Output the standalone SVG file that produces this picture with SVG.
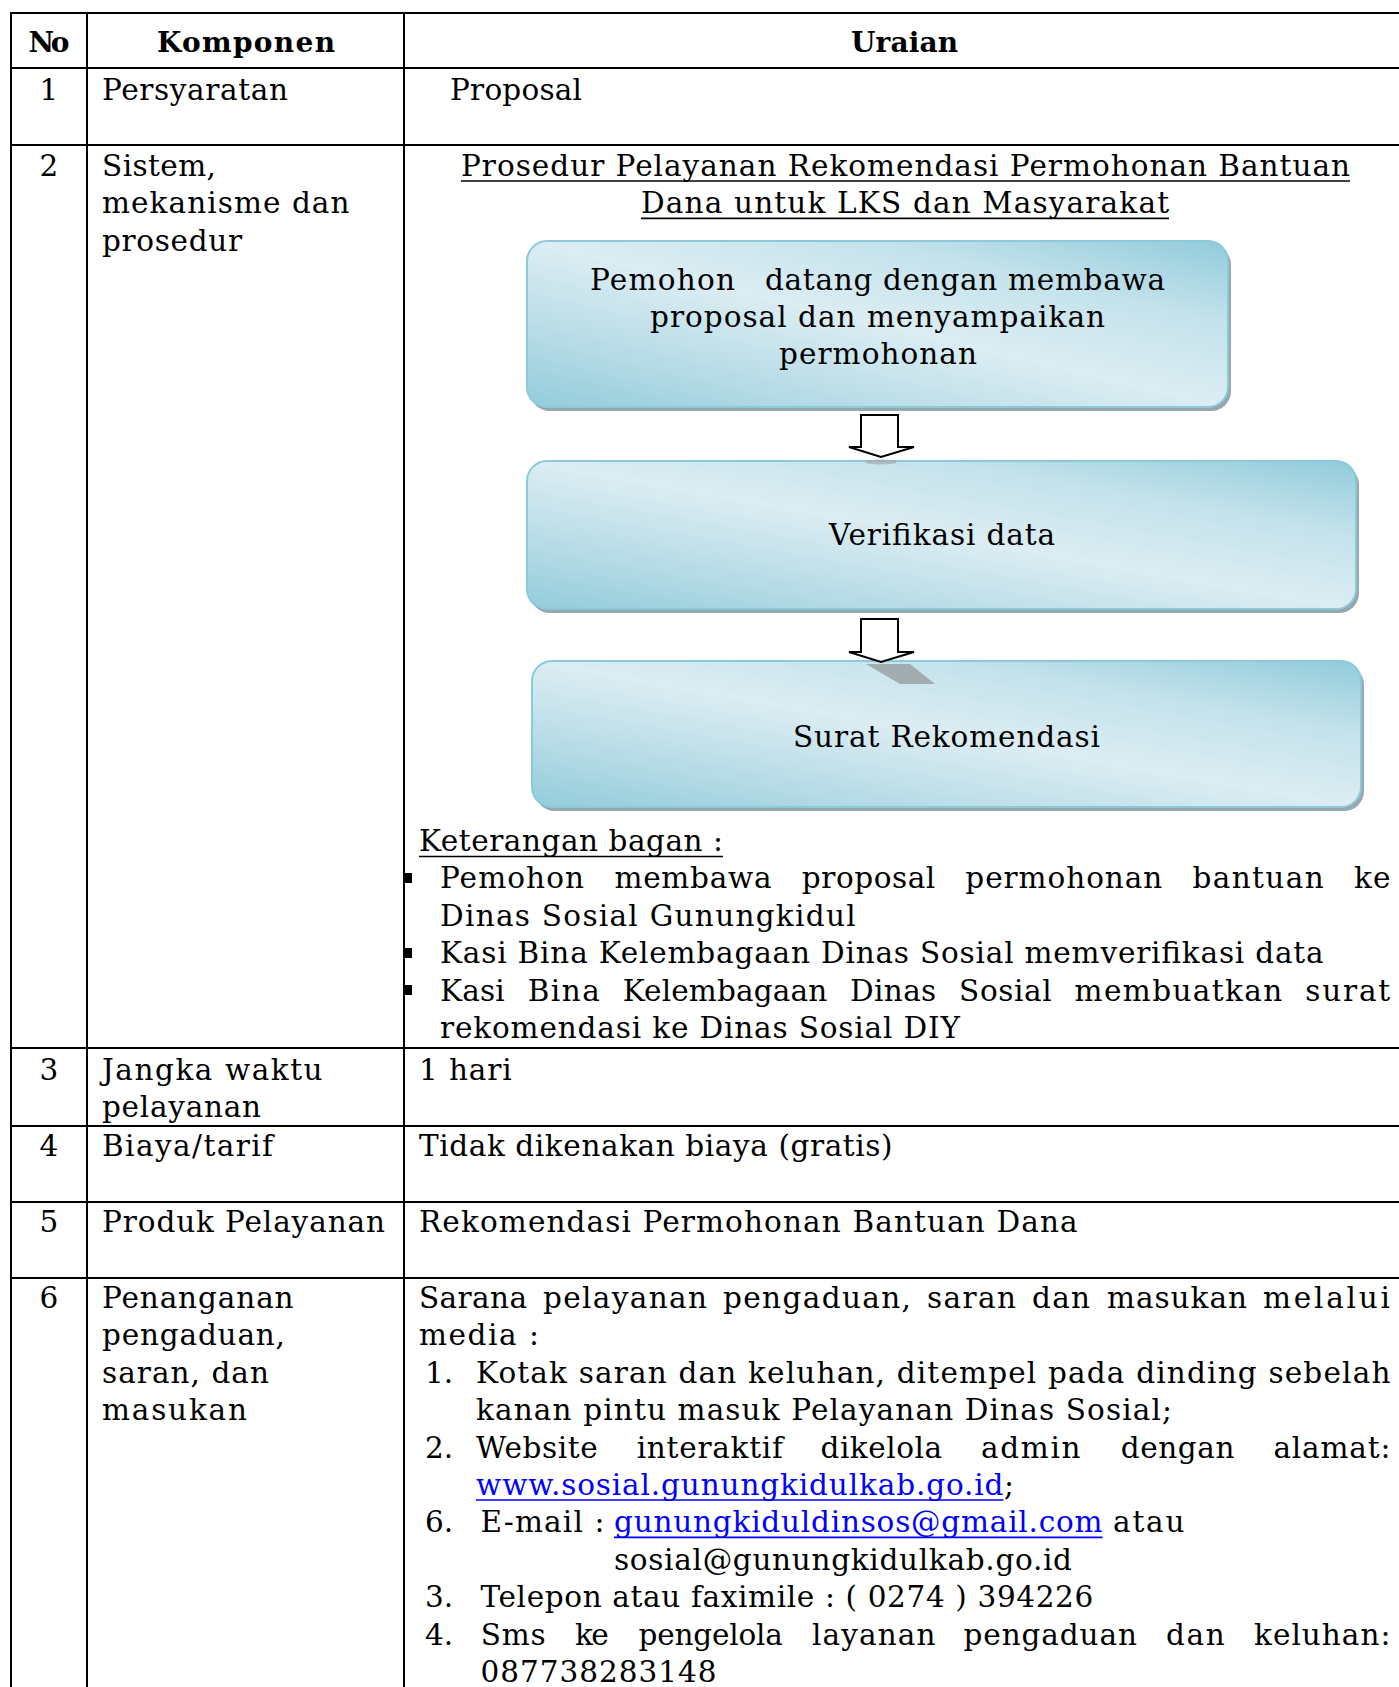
<svg xmlns="http://www.w3.org/2000/svg" width="1399" height="1687" viewBox="0 0 1399 1687">
<style>
.t{font-family:"DejaVu Serif","Liberation Serif",serif;font-size:29.5px;fill:#000}
.b{font-weight:bold;font-size:28px}
.n{text-anchor:middle}
.lnk{fill:#0000ff}
.grid{stroke:#000;stroke-width:2;fill:none}
.ul{stroke:#000;stroke-width:1.6}
.ulb{stroke:#0000ff;stroke-width:1.6}
.box{fill:url(#bg);stroke:#8ccadb;stroke-width:2}
.shadow{fill:#97a7ad}
.arrow{fill:#fff;stroke:#000;stroke-width:2;stroke-linejoin:miter}
.ash{fill:#a3adb1}
</style>
<defs>
<linearGradient id="bg" x1="0" y1="1" x2="1" y2="0">
<stop offset="0" stop-color="#93ccdb"/>
<stop offset="0.22" stop-color="#b5dbe6"/>
<stop offset="0.5" stop-color="#dcedf3"/>
<stop offset="0.75" stop-color="#c3e2eb"/>
<stop offset="1" stop-color="#91cbdb"/>
</linearGradient>
</defs>
<rect width="1399" height="1687" fill="#fff"/>

<g id="table" class="grid">
<line x1="10" y1="13" x2="1399" y2="13"/>
<line x1="10" y1="68" x2="1399" y2="68"/>
<line x1="10" y1="145" x2="1399" y2="145"/>
<line x1="10" y1="1048" x2="1399" y2="1048"/>
<line x1="10" y1="1126" x2="1399" y2="1126"/>
<line x1="10" y1="1202" x2="1399" y2="1202"/>
<line x1="10" y1="1278" x2="1399" y2="1278"/>
<line x1="11" y1="12" x2="11" y2="1687"/>
<line x1="87" y1="12" x2="87" y2="1687"/>
<line x1="404" y1="12" x2="404" y2="1687"/>
</g>

<g id="header">
<text class="t b" x="28.5" y="52" textLength="41" lengthAdjust="spacing">No</text>
<text class="t b" x="157" y="52" textLength="178" lengthAdjust="spacing">Komponen</text>
<text class="t b" x="851" y="52" textLength="107" lengthAdjust="spacing">Uraian</text>
</g>

<g id="row1">
<text class="t n" x="49" y="100">1</text>
<text class="t" x="102" y="100" textLength="186" lengthAdjust="spacing">Persyaratan</text>
<text class="t" x="450" y="100" textLength="132" lengthAdjust="spacing">Proposal</text>
</g>

<g id="row2">
<text class="t n" x="49" y="176">2</text>
<text class="t" x="102" y="176" textLength="114" lengthAdjust="spacing">Sistem,</text>
<text class="t" x="102" y="213.4" textLength="247.5" lengthAdjust="spacing">mekanisme dan</text>
<text class="t" x="102" y="250.8" textLength="140" lengthAdjust="spacing">prosedur</text>
<text class="t" x="461" y="176" textLength="889" lengthAdjust="spacing">Prosedur Pelayanan Rekomendasi Permohonan Bantuan</text>
<line class="ul" x1="461" y1="181" x2="1350" y2="181"/>
<text class="t" x="641" y="213.4" textLength="528" lengthAdjust="spacing">Dana untuk LKS dan Masyarakat</text>
<line class="ul" x1="641" y1="218.4" x2="1169" y2="218.4"/>
</g>

<g id="node-pemohon">
<rect class="shadow" x="530" y="245" width="701" height="166" rx="20"/>
<rect class="box" x="527" y="241" width="701" height="166" rx="20"/>
<text class="t" x="590" y="290" textLength="145" lengthAdjust="spacing">Pemohon</text>
<text class="t" x="765" y="290" textLength="400" lengthAdjust="spacing">datang dengan membawa</text>
<text class="t" x="650" y="327" textLength="455" lengthAdjust="spacing">proposal dan menyampaikan</text>
<text class="t" x="779" y="364" textLength="198" lengthAdjust="spacing">permohonan</text>
</g>

<g id="node-verifikasi">
<rect class="shadow" x="530" y="465" width="829" height="148" rx="20"/>
<rect class="box" x="527" y="461" width="829" height="148" rx="20"/>
<text class="t" x="829" y="545" textLength="226" lengthAdjust="spacing">Verifikasi data</text>
</g>

<g id="node-surat">
<rect class="shadow" x="535" y="665" width="829" height="146" rx="20"/>
<rect class="box" x="532" y="661" width="829" height="146" rx="20"/>
<text class="t" x="793" y="747" textLength="307" lengthAdjust="spacing">Surat Rekomendasi</text>
</g>

<g id="connectors">
<ellipse class="ash" cx="881" cy="462" rx="16" ry="2.5" opacity="0.7"/>
<polygon class="arrow" points="861,415 898,415 898,447 914,447 881,457 849,447 861,447"/>
<polygon class="ash" points="866,664 910,664 935,684 900,684"/>
<polygon class="arrow" points="861,619 898,619 898,652 914,652 881,662 849,652 861,652"/>
</g>

<g id="keterangan">
<text class="t" x="419" y="851" textLength="304" lengthAdjust="spacing">Keterangan bagan :</text>
<line class="ul" x1="419" y1="856.5" x2="723" y2="856.5"/>
<rect x="405" y="873" width="7" height="10" fill="#000"/>
<rect x="405" y="948" width="7" height="10" fill="#000"/>
<rect x="405" y="985" width="7" height="10" fill="#000"/>
<text class="t" y="888.4"><tspan x="440" textLength="144" lengthAdjust="spacing">Pemohon</tspan><tspan x="614.5" textLength="157" lengthAdjust="spacing">membawa</tspan><tspan x="801.8" textLength="133.4" lengthAdjust="spacing">proposal</tspan><tspan x="965.3" textLength="197" lengthAdjust="spacing">permohonan</tspan><tspan x="1192.4" textLength="131.3" lengthAdjust="spacing">bantuan</tspan><tspan x="1353.9" textLength="36.6" lengthAdjust="spacing">ke</tspan></text>
<text class="t" x="440" y="925.8" textLength="415.6" lengthAdjust="spacing">Dinas Sosial Gunungkidul</text>
<text class="t" x="440" y="963.2" textLength="883.6" lengthAdjust="spacing">Kasi Bina Kelembagaan Dinas Sosial memverifikasi data</text>
<text class="t" y="1000.6"><tspan x="440" textLength="64.6" lengthAdjust="spacing">Kasi</tspan><tspan x="527.7" textLength="72.1" lengthAdjust="spacing">Bina</tspan><tspan x="622.7" textLength="204.5" lengthAdjust="spacing">Kelembagaan</tspan><tspan x="850.1" textLength="86.1" lengthAdjust="spacing">Dinas</tspan><tspan x="959.1" textLength="92.6" lengthAdjust="spacing">Sosial</tspan><tspan x="1074.6" textLength="207.7" lengthAdjust="spacing">membuatkan</tspan><tspan x="1305.2" textLength="85" lengthAdjust="spacing">surat</tspan></text>
<text class="t" x="440" y="1038" textLength="520" lengthAdjust="spacing">rekomendasi ke Dinas Sosial DIY</text>
</g>

<g id="row3">
<text class="t n" x="49" y="1080">3</text>
<text class="t" x="102" y="1080" textLength="220.6" lengthAdjust="spacing">Jangka waktu</text>
<text class="t" x="102" y="1117.4" textLength="159" lengthAdjust="spacing">pelayanan</text>
<text class="t" x="419" y="1080" textLength="92.6" lengthAdjust="spacing">1 hari</text>
</g>

<g id="row4">
<text class="t n" x="49" y="1156">4</text>
<text class="t" x="102" y="1156" textLength="171" lengthAdjust="spacing">Biaya/tarif</text>
<text class="t" x="419" y="1156" textLength="473.5" lengthAdjust="spacing">Tidak dikenakan biaya (gratis)</text>
</g>

<g id="row5">
<text class="t n" x="49" y="1232">5</text>
<text class="t" x="102" y="1232" textLength="283" lengthAdjust="spacing">Produk Pelayanan</text>
<text class="t" x="419" y="1232" textLength="658.6" lengthAdjust="spacing">Rekomendasi Permohonan Bantuan Dana</text>
</g>

<g id="row6">
<text class="t n" x="49" y="1308">6</text>
<text class="t" x="102" y="1308" textLength="191.6" lengthAdjust="spacing">Penanganan</text>
<text class="t" x="102" y="1345.4" textLength="183" lengthAdjust="spacing">pengaduan,</text>
<text class="t" x="102" y="1382.8" textLength="167" lengthAdjust="spacing">saran, dan</text>
<text class="t" x="102" y="1420.2" textLength="145" lengthAdjust="spacing">masukan</text>

<text class="t" y="1308"><tspan x="419" textLength="108" lengthAdjust="spacing">Sarana</tspan><tspan x="543" textLength="164" lengthAdjust="spacing">pelayanan</tspan><tspan x="723" textLength="188" lengthAdjust="spacing">pengaduan,</tspan><tspan x="927" textLength="89" lengthAdjust="spacing">saran</tspan><tspan x="1032" textLength="58" lengthAdjust="spacing">dan</tspan><tspan x="1107" textLength="140" lengthAdjust="spacing">masukan</tspan><tspan x="1263" textLength="127" lengthAdjust="spacing">melalui</tspan></text>
<text class="t" x="419" y="1345.4" textLength="120" lengthAdjust="spacing">media :</text>

<text class="t" x="425" y="1382.8">1.</text>
<text class="t" x="476" y="1382.8" textLength="914.4" lengthAdjust="spacing">Kotak saran dan keluhan, ditempel pada dinding sebelah</text>
<text class="t" x="476" y="1420.2" textLength="696" lengthAdjust="spacing">kanan pintu masuk Pelayanan Dinas Sosial;</text>

<text class="t" x="425" y="1457.6">2.</text>
<text class="t" y="1457.6"><tspan x="476" textLength="121.7" lengthAdjust="spacing">Website</tspan><tspan x="636.7" textLength="146.2" lengthAdjust="spacing">interaktif</tspan><tspan x="820.5" textLength="121.5" lengthAdjust="spacing">dikelola</tspan><tspan x="981" textLength="99.5" lengthAdjust="spacing">admin</tspan><tspan x="1120.7" textLength="113.8" lengthAdjust="spacing">dengan</tspan><tspan x="1273.4" textLength="117" lengthAdjust="spacing">alamat:</tspan></text>
<text class="t lnk" x="476" y="1495" textLength="527.5" lengthAdjust="spacing">www.sosial.gunungkidulkab.go.id</text>
<line class="ulb" x1="476" y1="1500" x2="1003.5" y2="1500"/>
<text class="t" x="1004" y="1495">;</text>

<text class="t" x="425" y="1532.4">6.</text>
<text class="t" x="480.5" y="1532.4" textLength="124" lengthAdjust="spacing">E-mail :</text>
<text class="t lnk" x="614" y="1532.4" textLength="488.6" lengthAdjust="spacing">gunungkiduldinsos@gmail.com</text>
<line class="ulb" x1="614" y1="1537.4" x2="1102.6" y2="1537.4"/>
<text class="t" x="1113" y="1532.4" textLength="71.4" lengthAdjust="spacing">atau</text>
<text class="t" x="614" y="1569.8" textLength="458" lengthAdjust="spacing">sosial@gunungkidulkab.go.id</text>

<text class="t" x="425" y="1607.2">3.</text>
<text class="t" x="480.5" y="1607.2" textLength="612.8" lengthAdjust="spacing">Telepon atau faximile : ( 0274 ) 394226</text>

<text class="t" x="425" y="1644.6">4.</text>
<text class="t" y="1644.6"><tspan x="480.7" textLength="65" lengthAdjust="spacing">Sms</tspan><tspan x="575" textLength="33.7" lengthAdjust="spacing">ke</tspan><tspan x="638.6" textLength="144.3" lengthAdjust="spacing">pengelola</tspan><tspan x="812" textLength="123.5" lengthAdjust="spacing">layanan</tspan><tspan x="963.5" textLength="173.5" lengthAdjust="spacing">pengaduan</tspan><tspan x="1166" textLength="58.7" lengthAdjust="spacing">dan</tspan><tspan x="1254" textLength="136.4" lengthAdjust="spacing">keluhan:</tspan></text>
<text class="t" x="480.5" y="1682" textLength="236" lengthAdjust="spacing">087738283148</text>
</g>
</svg>
